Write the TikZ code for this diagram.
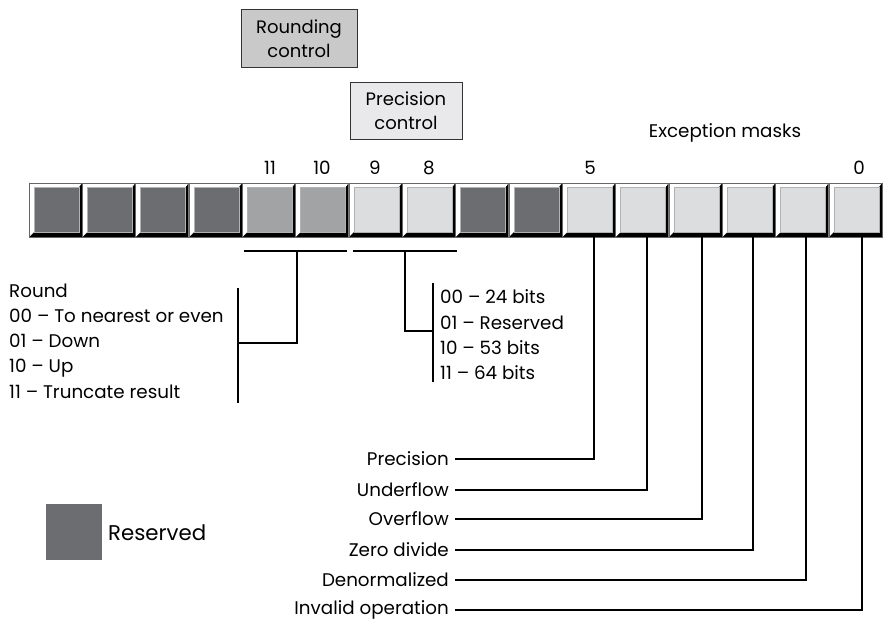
\documentclass[tikz,border=0pt]{standalone}
\usepackage{fontspec}
\setmainfont{Poppins}
\definecolor{resv}{HTML}{6C6D71}
\definecolor{rnd}{HTML}{A2A3A5}
\definecolor{lite}{HTML}{DCDDDF}
\definecolor{rcbox}{HTML}{C9C9C9}
\definecolor{pcbox}{HTML}{E9E9EB}
\begin{document}
\begin{tikzpicture}[x=1pt,y=-1pt,
  txt/.style={font=\fontsize{18.3}{22}\selectfont, inner sep=0pt},
  ctrlbox/.style={draw=black!80, line width=1pt, minimum width=116pt, minimum height=58pt, align=center, font=\fontsize{18}{24.5}\selectfont, inner sep=0pt},
  cellin/.style={draw=black!30, line width=0.6pt, minimum size=45pt, inner sep=0pt},
  conn/.style={line width=1.4pt}
]
\useasboundingbox (0,0) rectangle (883,622);
% control boxes
\node[ctrlbox, fill=rcbox] (rc) at (299,38.5) {Rounding\\control};
\node[ctrlbox, fill=pcbox, minimum width=112pt, minimum height=57pt] (pc) at (406,110.5) {Precision\\control};
\node[txt] (em) at (725,133) {Exception masks};
% cells
\foreach \i/\c in {0/resv,1/resv,2/resv,3/resv,4/rnd,5/rnd,6/lite,7/lite,8/resv,9/resv,10/lite,11/lite,12/lite,13/lite,14/lite,15/lite}{
  \pgfmathsetmacro\xo{29+53.33*\i}
  \pgfmathtruncatemacro\bit{15-\i}
  \fill[black] (\xo,183) rectangle ++(53,54);
  \fill[white] (\xo,183) -- ++(53,0) -- (\xo+50,187) -- (\xo+5,187) -- (\xo+5,232) -- (\xo,237) -- cycle;
  \draw[black!60, line width=0.5pt] (\xo,183) rectangle ++(53,54);
  \node[cellin, fill=\c] (b\bit) at (\xo+27.5,209.5) {};
}
% bit numbers
\node[txt] (n11) at (270,168) {11};
\node[txt] (n10) at (322,168) {10};
\node[txt] (n9) at (375,168) {9};
\node[txt] (n8) at (429,168) {8};
\node[txt] (n5) at (590,168) {5};
\node[txt] (n0) at (859,168) {0};
% rounding bracket
\coordinate (rl) at (244,251);
\coordinate (rr) at (347,251);
\coordinate (rm) at (297,251);
\coordinate (rk) at (238,343);
\coordinate (rt) at (238,288);
\coordinate (rb) at (238,403);
\draw[conn] (rl) -- (rr);
\draw[conn] (rm) |- (rk);
\draw[conn] (rt) -- (rb);
% precision bracket
\coordinate (pl) at (353,251);
\coordinate (pr) at (457,251);
\coordinate (pm) at (405,251);
\coordinate (pk) at (433,331);
\coordinate (pt) at (433,283);
\coordinate (pb) at (433,382);
\draw[conn] (pl) -- (pr);
\draw[conn] (pm) |- (pk);
\draw[conn] (pt) -- (pb);
% texts
\node[txt, anchor=west, align=left, font=\fontsize{18.3}{25.3}\selectfont] (rtext) at (9,341) {Round\\00 – To nearest or even\\01 – Down\\10 – Up\\11 – Truncate result};
\node[txt, anchor=west, align=left, font=\fontsize{18.3}{25.3}\selectfont] (ptext) at (440,335) {00 – 24 bits\\01 – Reserved\\10 – 53 bits\\11 – 64 bits};
% exception labels
\foreach \n/\t/\y/\x in {e5/Precision/459/594, e4/Underflow/490/647, e3/Overflow/519/702, e2/Zero divide/550/753, e1/Denormalized/580/806, e0/Invalid operation/610/862}{
  \node[txt, anchor=east] (\n) at (449,\y) {\t};
  \coordinate (v\n) at (\x,237);
  \draw[conn] ([xshift=6pt]\n.east) -| (v\n);
}
% legend
\node[fill=resv, minimum size=56pt, inner sep=0pt] (leg) at (74,531.5) {};
\node[txt, anchor=west, font=\fontsize{21.3}{25}\selectfont] (legt) at (108,533) {Reserved};
\end{tikzpicture}
\end{document}
